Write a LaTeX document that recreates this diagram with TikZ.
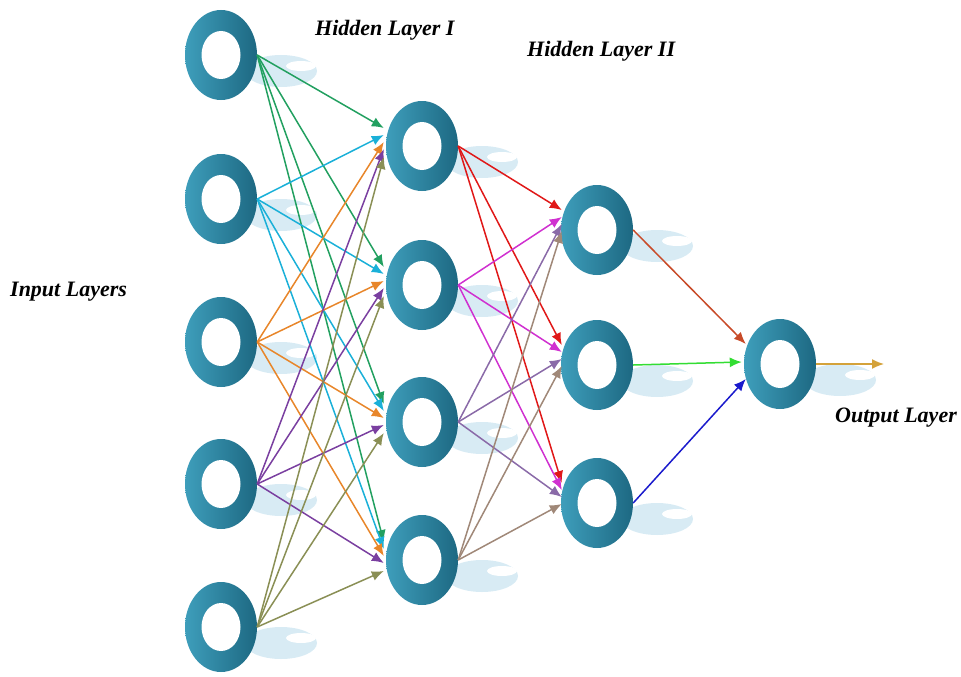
\documentclass[tikz,border=0pt]{standalone}
\usepackage{fontspec}
\setmainfont{Liberation Serif}
\usetikzlibrary{shapes.geometric,arrows.meta,backgrounds}
\definecolor{ringL}{HTML}{3E9EBB}
\definecolor{ringR}{HTML}{1D6882}
\definecolor{shadowc}{HTML}{D8EBF4}
\definecolor{cA}{HTML}{22A060}
\definecolor{cB}{HTML}{1AB0D8}
\definecolor{cC}{HTML}{E8862A}
\definecolor{cD}{HTML}{7A3FA0}
\definecolor{cE}{HTML}{8A8F55}
\definecolor{cF}{HTML}{E01818}
\definecolor{cG}{HTML}{D030D0}
\definecolor{cH}{HTML}{8A6AA8}
\definecolor{cI}{HTML}{A08878}
\definecolor{cJ}{HTML}{C84A28}
\definecolor{cK}{HTML}{33DD33}
\definecolor{cL}{HTML}{1A1ACC}
\definecolor{cM}{HTML}{D4A23A}
\begin{document}
\begin{tikzpicture}[x=1pt,y=-1pt,
  ring/.style={ellipse, minimum width=72pt, minimum height=90pt, inner sep=0pt,
    left color=ringL, right color=ringR,
    path picture={\fill[white] (path picture bounding box.center) ellipse [x radius=19.5pt, y radius=24pt];}},
  lbl/.style={font=\fontsize{22}{26}\selectfont\bfseries\itshape, inner sep=0pt, anchor=west},
  link/.style={line width=1.5pt, -{Latex[length=12pt,width=10pt]}},
]
\useasboundingbox (0,0) rectangle (961,677);

% nodes
\node[ring] (i1) at (221,55) {};
\node[ring] (i2) at (221,199) {};
\node[ring] (i3) at (221,342) {};
\node[ring] (i4) at (221,484) {};
\node[ring] (i5) at (221,627) {};
\node[ring] (h1) at (422,146) {};
\node[ring] (h2) at (422,285) {};
\node[ring] (h3) at (422,422) {};
\node[ring] (h4) at (422,560) {};
\node[ring] (k1) at (597,230) {};
\node[ring] (k2) at (597,365) {};
\node[ring] (k3) at (597,503) {};
\node[ring] (o)  at (780,364) {};

% shadows
\begin{scope}[on background layer]
\foreach \n in {i1,i2,i3,i4,i5,h1,h2,h3,h4,k1,k2,k3,o} {
  \fill[shadowc] ([shift={(60,16)}]\n.center) ellipse [x radius=36pt, y radius=16pt];
  \fill[white] ([shift={(80,11)}]\n.center) ellipse [x radius=15pt, y radius=5pt];
}
\end{scope}

% labels
\node[lbl] (tin) at (10,292) {Input Layers};
\node[lbl] (th1) at (315,30) {Hidden Layer I};
\node[lbl] (th2) at (527,51) {Hidden Layer II};
\node[lbl] (tout) at (835,418) {Output Layer};

% input -> hidden I
\foreach \s/\c/\dy in {i1/cA/18,i2/cB/11,i3/cC/4,i4/cD/-3,i5/cE/-11} {
  \foreach \t in {h1,h2,h3,h4} {
    \draw[link,\c] (\s.east) -- ([xshift=-2pt,yshift=\dy pt]\t.west);
  }
}
% hidden I -> hidden II
\foreach \s/\c/\dy in {h1/cF/20,h2/cG/13,h3/cH/6,h4/cI/-1} {
  \foreach \t in {k1,k2,k3} {
    \draw[link,\c] (\s.east) -- ([xshift=1pt,yshift=\dy pt]\t.west);
  }
}
% hidden II -> output
\draw[link,cJ] (k1.east) -- ([xshift=2pt,yshift=20pt]o.west);
\draw[link,cK] (k2.east) -- ([xshift=-2pt,yshift=2pt]o.west);
\draw[link,cL] (k3.east) -- ([xshift=2pt,yshift=-15pt]o.west);
\coordinate (oend) at (884,364);
\draw[link,cM] (o.east) -- (oend);
\end{tikzpicture}
\end{document}
